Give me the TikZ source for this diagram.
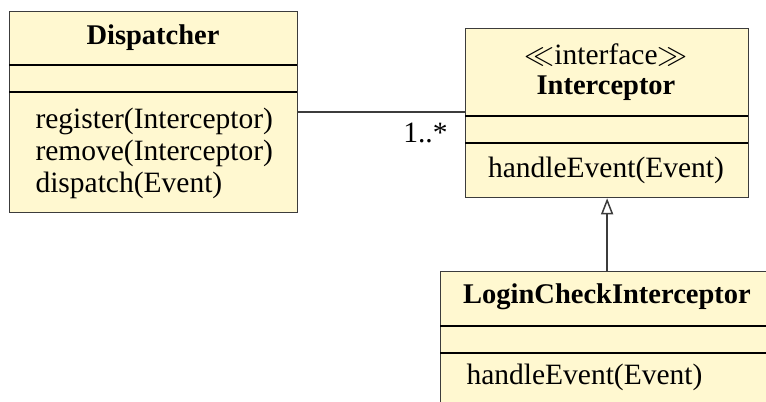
\documentclass[tikz,border=0pt]{standalone}
\usepackage{fontspec}
\setmainfont{Liberation Serif}
\usetikzlibrary{arrows.meta}
\definecolor{umlfill}{RGB}{255,248,208}
\definecolor{umlline}{RGB}{60,60,60}
\begin{document}
\begin{tikzpicture}[x=0.4pt,y=-0.4pt,
  umlbox/.style={draw=umlline, fill=umlfill, line width=0.5pt, inner sep=0pt, anchor=north west},
  divider/.style={draw=black, line width=0.5pt},
  txt/.style={inner sep=0pt, font=\fontsize{11.8}{14}\selectfont},
  btxt/.style={txt, font=\fontsize{11.4}{14}\selectfont\bfseries},
  conn/.style={draw=umlline, line width=0.6pt}]
\useasboundingbox (0,0) rectangle (766,401);
\begin{scope}
\clip (0,0) rectangle (766,401);
% Dispatcher
\node[umlbox, minimum width=115.2pt, minimum height=80.4pt] (disp) at (9,11) {};
\draw[divider] (9,65) coordinate (d1a) -- (297,65) coordinate (d1b);
\draw[divider] (9,92) coordinate (d2a) -- (297,92) coordinate (d2b);
\node[btxt] (dname) at (153,38) {Dispatcher};
\node[txt, anchor=base west] (dm1) at (35,128) {register(Interceptor)};
\node[txt, anchor=base west] (dm2) at (35,160) {remove(Interceptor)};
\node[txt, anchor=base west] (dm3) at (35,192) {dispatch(Event)};
% Interceptor
\node[umlbox, minimum width=113.2pt, minimum height=67.6pt] (intf) at (465,28) {};
\draw[divider] (465,116) -- (748,116);
\draw[divider] (465,143) -- (748,143);
\node[txt] (ister) at (606,55) {$\ll$interface$\gg$};
\node[btxt] (iname) at (606,88) {Interceptor};
\node[txt] (im1) at (606,170) {handleEvent(Event)};
% LoginCheckInterceptor
\node[umlbox, minimum width=133.6pt, minimum height=64pt] (login) at (440,271) {};
\draw[divider] (440,326) -- (780,326);
\draw[divider] (440,353) -- (780,353);
\node[btxt] (lname) at (607,297) {LoginCheckInterceptor};
\node[txt, anchor=west] (lm1) at (466,377) {handleEvent(Event)};
% connectors
\draw[conn] (disp.east) -- (disp.east -| intf.west);
\node[txt, anchor=base east] (mult) at (448,142) {1..*};
\draw[conn, -{Triangle[open, length=6.4pt, width=4.8pt, line width=0.6pt]}] (login.north -| intf.south) -- (intf.south);
\end{scope}
\end{tikzpicture}
\end{document}
